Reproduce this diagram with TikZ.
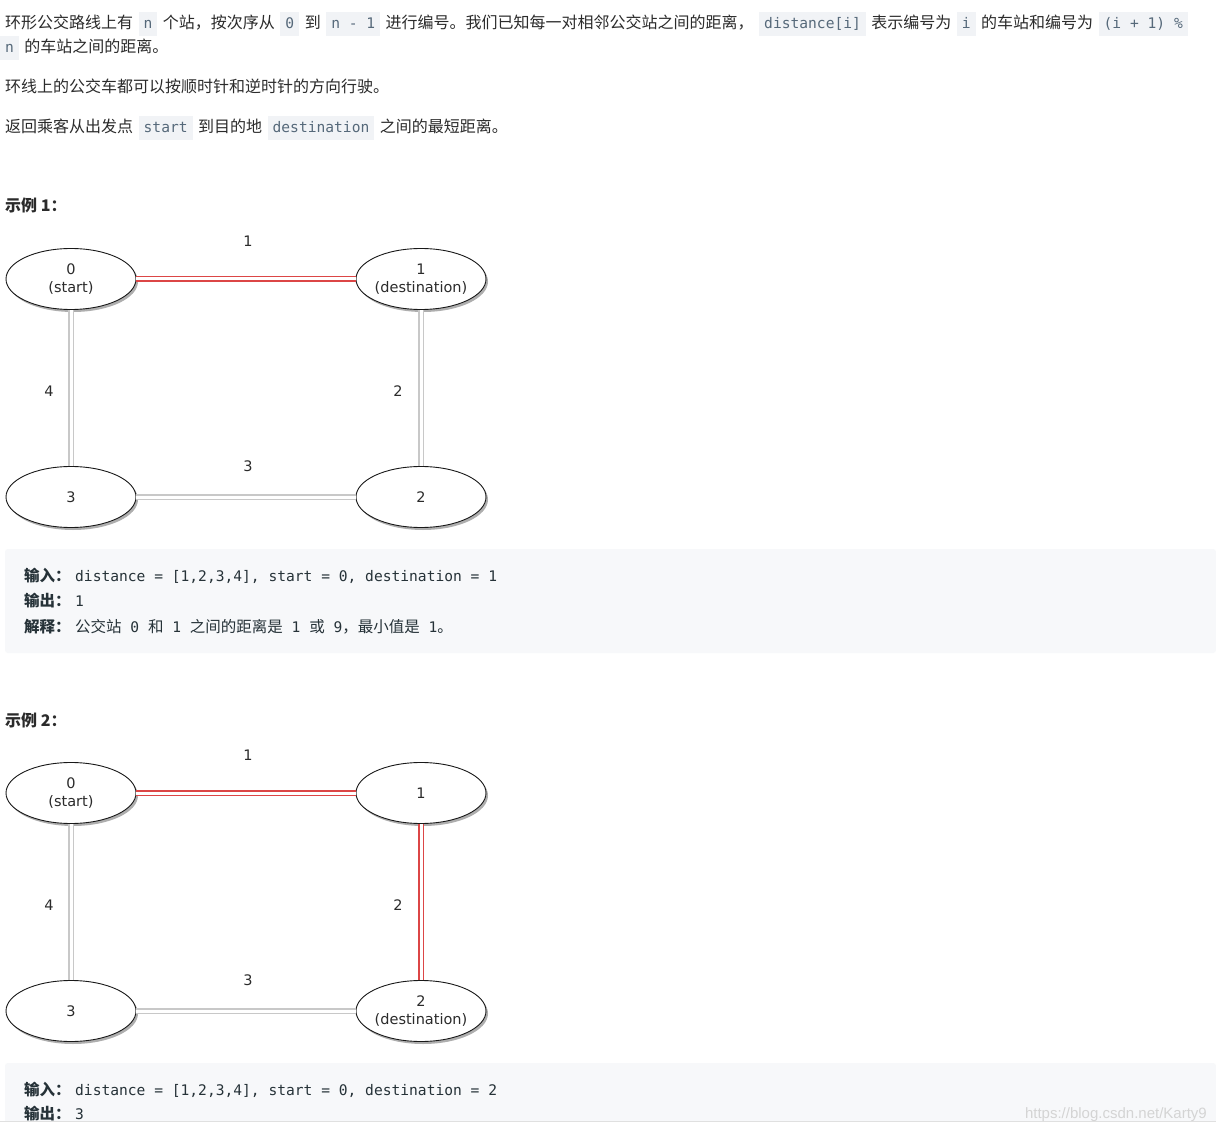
\documentclass[tikz,border=0pt]{standalone}
\usepackage{fontspec}
\usetikzlibrary{shapes.geometric,shadows}
\setmainfont{DejaVu Sans}
\newfontfamily\cjk{Noto Sans CJK SC}
\newfontfamily\monof{DejaVu Sans Mono}
\newfontfamily\gfont{DejaVu Sans}
\newfontfamily\wmfont{Liberation Sans}
\definecolor{txt}{HTML}{2B2B2B}
\definecolor{codetxt}{HTML}{56697A}
\definecolor{codebg}{HTML}{F1F3F6}
\definecolor{blockbg}{HTML}{F7F8FA}
\definecolor{blocktxt}{HTML}{263238}
\definecolor{redline}{RGB}{220,70,70}
\definecolor{grayline}{RGB}{200,200,200}
\definecolor{wmgray}{RGB}{212,212,212}
\newcommand\ic[1]{\hspace{5.5pt}{\setlength{\fboxsep}{0pt}\colorbox{codebg}{\rule[-7pt]{0pt}{24pt}\hspace{5pt}{\monof\fontsize{14.6}{16}\selectfont\color{codetxt}#1}\hspace{5pt}}}\hspace{5.5pt}}
\newcommand\mm[1]{{\monof\fontsize{14.6}{16}\selectfont #1}}
\newcommand\cc[1]{{\cjk\fontsize{15.5}{18}\selectfont #1}}
\newcommand\cb[1]{{\cjk\bfseries\fontsize{15.5}{18}\selectfont #1}}
\tikzset{
  para/.style={anchor=base west, inner sep=0pt, text=txt, font=\cjk\fontsize{16}{20}\selectfont},
  heading/.style={anchor=base west, inner sep=0pt, text=txt, font=\cjk\bfseries\fontsize{16}{20}\selectfont},
  codeline/.style={anchor=base west, inner sep=0pt, text=blocktxt},
  block/.style={fill=blockbg, rounded corners=3pt},
  station/.style={ellipse, draw=black!90, line width=0.9pt, fill=white,
    minimum width=130pt, minimum height=61pt, inner sep=0pt,
    drop shadow={shadow xshift=2pt, shadow yshift=-2.5pt, opacity=0.45, fill=black!70}},
  stext/.style={align=center, inner sep=0pt, text=txt, font=\gfont\fontsize{14.5}{18}\selectfont},
  road/.style={draw=grayline, line width=1.4pt, double=white, double distance=3pt},
  redroad/.style={road, draw=redline},
  elabel/.style={inner sep=0pt, text=txt, font=\gfont\fontsize{14.5}{18}\selectfont},
}
\begin{document}
\begin{tikzpicture}[x=1pt,y=-1pt]
\useasboundingbox (0,0) rectangle (1216,1131);
\fill[white] (0,0) rectangle (1216,1131);

% description
\node[para] (p1) at (5,29) {环形公交路线上有\ic{n}个站，按次序从\ic{0}到\ic{n - 1}进行编号。我们已知每一对相邻公交站之间的距离，\ic{distance[i]}表示编号为\ic{i}的车站和编号为\ic{(i + 1) \%}};
\node[para] (p2) at (-5.5,53) {\ic{n}的车站之间的距离。};
\node[para] (p3) at (5,93) {环线上的公交车都可以按顺时针和逆时针的方向行驶。};
\node[para] (p4) at (5,133) {返回乘客从出发点\ic{start}到目的地\ic{destination}之间的最短距离。};

% example 1
\node[heading] (h1) at (5,212) {示例 1：};
\node[station, label={[stext]center:0\\(start)}] (a0) at (71,279) {};
\node[station, label={[stext]center:1\\(destination)}] (a1) at (421,279) {};
\node[station, label={[stext]center:2}] (a2) at (421,497) {};
\node[station, label={[stext]center:3}] (a3) at (71,497) {};
\draw[redroad] (a0) -- (a1);
\draw[road] (a1) -- (a2);
\draw[road] (a3) -- (a2);
\draw[road] (a0) -- (a3);
\node[elabel] (a01) at (248,241) {1};
\node[elabel] (a12) at (398,391) {2};
\node[elabel] (a23) at (248,466) {3};
\node[elabel] (a30) at (49,391) {4};

\fill[block] (5,549) rectangle (1216,653);
\node[codeline] (c1) at (24,581) {\cb{输入：}\hspace{4.5pt}\mm{distance = [1,2,3,4], start = 0, destination = 1}};
\node[codeline] (c2) at (24,606) {\cb{输出：}\hspace{4.5pt}\mm{1}};
\node[codeline] (c3) at (24,632) {\cb{解释：}\hspace{4.5pt}\cc{公交站}\mm{\ 0\ }\cc{和}\mm{\ 1\ }\cc{之间的距离是}\mm{\ 1\ }\cc{或}\mm{\ 9}\cc{，最小值是}\mm{\ 1}\cc{。}};

% example 2
\node[heading] (h2) at (5,726) {示例 2：};
\node[station, label={[stext]center:0\\(start)}] (b0) at (71,793) {};
\node[station, label={[stext]center:1}] (b1) at (421,793) {};
\node[station, label={[stext]center:2\\(destination)}] (b2) at (421,1011) {};
\node[station, label={[stext]center:3}] (b3) at (71,1011) {};
\draw[redroad] (b0) -- (b1);
\draw[redroad] (b1) -- (b2);
\draw[road] (b3) -- (b2);
\draw[road] (b0) -- (b3);
\node[elabel] (b01) at (248,755) {1};
\node[elabel] (b12) at (398,905) {2};
\node[elabel] (b23) at (248,980) {3};
\node[elabel] (b30) at (49,905) {4};

\begin{scope}
\clip (0,1060) rectangle (1216,1121);
\fill[block] (5,1063) rectangle (1216,1140);
\node[codeline] (d1) at (24,1095) {\cb{输入：}\hspace{4.5pt}\mm{distance = [1,2,3,4], start = 0, destination = 2}};
\node[codeline] (d2) at (24,1119) {\cb{输出：}\hspace{4.5pt}\mm{3}};
\end{scope}
\draw[black!12, line width=0.8pt] (0,1121.5) -- (1216,1121.5);
\node[anchor=base east, inner sep=0pt, text=wmgray, font=\wmfont\fontsize{15}{18}\selectfont] (wm) at (1207,1118) {https://blog.csdn.net/Karty9};
\end{tikzpicture}
\end{document}
